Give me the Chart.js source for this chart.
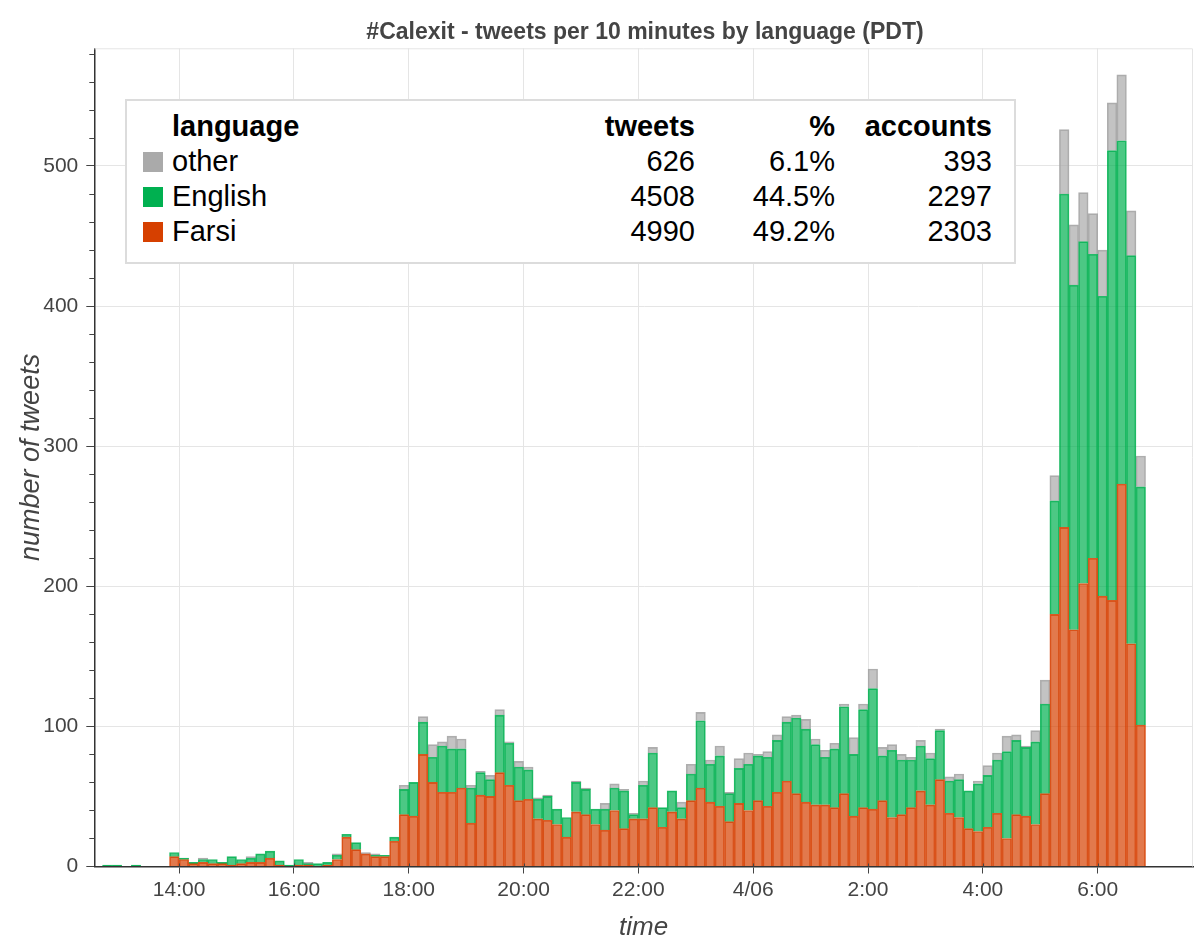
<!DOCTYPE html>
<html>
<head>
<meta charset="utf-8">
<script src="https://cdn.jsdelivr.net/npm/chart.js@4.4.0/dist/chart.umd.min.js"></script>
<style>
html, body { margin: 0; padding: 0; background: #fff; }
#wrap { position: relative; width: 1200px; height: 946px; }
#chart { position: absolute; left: 0; top: 0; }
#title { position: absolute; left: 645px; top: 17px; transform: translateX(-50%); white-space: nowrap;
  font-family: "Liberation Sans", Arial, sans-serif; font-weight: bold; font-size: 23px; line-height: 28px; color: #444; }
#legend { position: absolute; left: 125px; top: 99px; width: 887px; height: 161px; background: #fff;
  border: 2px solid #dcdcdc; font-family: "Liberation Sans", Arial, sans-serif; font-size: 29px; color: #000; }
.row { position: absolute; left: 0; width: 887px; height: 35px; line-height: 35px; }
.row span { position: absolute; top: 0; white-space: nowrap; }
.row .num { left: 0; text-align: right; }
.hdr { font-weight: bold; }
.sw { position: absolute; left: 16px; top: 8px; width: 20px; height: 20px; }
</style>
</head>
<body>
<div id="wrap">
  <canvas id="chart" width="1200" height="946"></canvas>
  <div id="title"></div>
  <div id="legend"></div>
</div>
<script>
// ---- data ----
const chartTitle = "#Calexit - tweets per 10 minutes by language (PDT)";
const categories = [
 "12:40","12:50","13:00","13:10","13:20","13:30","13:40","13:50",
 "14:00","14:10","14:20","14:30","14:40","14:50","15:00","15:10","15:20","15:30","15:40","15:50",
 "16:00","16:10","16:20","16:30","16:40","16:50","17:00","17:10","17:20","17:30","17:40","17:50",
 "18:00","18:10","18:20","18:30","18:40","18:50","19:00","19:10","19:20","19:30","19:40","19:50",
 "20:00","20:10","20:20","20:30","20:40","20:50","21:00","21:10","21:20","21:30","21:40","21:50",
 "22:00","22:10","22:20","22:30","22:40","22:50","23:00","23:10","23:20","23:30","23:40","23:50",
 "00:00","00:10","00:20","00:30","00:40","00:50","01:00","01:10","01:20","01:30","01:40","01:50",
 "02:00","02:10","02:20","02:30","02:40","02:50","03:00","03:10","03:20","03:30","03:40","03:50",
 "04:00","04:10","04:20","04:30","04:40","04:50","05:00","05:10","05:20","05:30","05:40","05:50",
 "06:00","06:10","06:20","06:30","06:40"
];
const farsi = [
 0,0,0,0,0,0,0,7,
 5,2,3,2,2,1,2,3,3,6,1,0,
 1,1,0,1,5,21,12,9,7,7,18,37,
 36,80,60,53,53,56,31,51,50,67,58,47,
 48,34,33,30,21,39,37,30,26,40,27,34,
 34,42,28,39,34,47,56,46,43,32,45,40,
 47,43,53,61,52,46,44,44,42,52,36,42,
 41,47,35,37,42,54,44,62,38,35,27,25,
 28,38,20,37,36,30,52,180,242,169,202,220,
 193,190,273,159,101
];
const english = [
 1,1,0,1,0,0,0,3,
 1,1,2,3,1,6,3,3,6,5,3,1,
 4,1,2,2,3,2,5,0,1,1,3,18,
 24,23,18,33,31,28,25,16,12,41,30,24,
 21,14,17,11,14,21,18,11,15,16,27,3,
 24,39,14,15,8,19,48,27,36,20,25,33,
 32,35,37,42,54,52,43,34,42,62,44,70,
 86,32,48,39,34,32,33,35,23,27,27,34,
 37,38,62,53,49,59,64,81,238,246,244,217,
 214,321,245,277,170
];
const other = [
 0,0,0,0,0,0,0,0,
 0,0,1,0,0,0,0,1,0,0,0,0,
 0,1,0,0,1,0,0,1,1,0,0,3,
 0,4,9,3,9,7,2,1,3,4,1,4,
 2,1,1,0,0,1,1,0,4,3,1,1,
 3,4,0,0,4,7,6,3,7,1,7,8,
 1,4,4,4,2,7,4,5,4,2,12,4,
 14,6,4,4,2,4,4,1,3,4,0,2,
 7,5,11,4,1,8,17,18,46,43,35,29,
 33,34,47,32,22
];
const xTickTimes  = ["14:00","16:00","18:00","20:00","22:00","24:00","26:00","28:00","30:00"];
const xTickLabels = ["14:00","16:00","18:00","20:00","22:00","4/06","2:00","4:00","6:00"];
const yTickValues = [0,100,200,300,400,500];

const legendNames    = ["other","English","Farsi"];
const legendTweets   = ["626","4508","4990"];
const legendPercent  = ["6.1%","44.5%","49.2%"];
const legendAccounts = ["393","2297","2303"];
const legendColors   = ["#aaaaaa","#00b050","#d64000"];

// ---- helpers ----
function toMinutes(t) {
  const [h, m] = t.split(":").map(Number);
  return (h < 12 ? h + 24 : h) * 60 + m;
}
const xCenters = categories.map(c => toMinutes(c) + 5);
const xTickValues = xTickTimes.map(toMinutes);
const pts = arr => arr.map((v, i) => ({ x: xCenters[i], y: v }));

const FONT = '"Liberation Sans", Arial, sans-serif';

document.getElementById('title').textContent = chartTitle;

const extras = {
  id: 'extras',
  afterDraw(chart) {
    const { ctx, chartArea: a, scales: { x, y } } = chart;
    ctx.save();
    ctx.strokeStyle = '#e5e5e5';
    ctx.lineWidth = 1;
    ctx.beginPath();
    ctx.moveTo(a.left, a.top + 0.5);
    ctx.lineTo(a.right - 0.5, a.top + 0.5);
    ctx.lineTo(a.right - 0.5, a.bottom);
    ctx.stroke();
    ctx.strokeStyle = '#444';
    ctx.lineWidth = 1;
    ctx.beginPath();
    for (let v = 20; v <= 580; v += 20) {
      if (v % 100 === 0) continue;
      const py = Math.round(y.getPixelForValue(v)) + 0.5;
      ctx.moveTo(a.left - 5, py);
      ctx.lineTo(a.left, py);
    }
    xTickValues.forEach(v => {
      const px = Math.round(x.getPixelForValue(v)) + 0.5;
      ctx.moveTo(px, a.bottom - 3);
      ctx.lineTo(px, a.bottom);
    });
    ctx.stroke();
    ctx.restore();
  }
};

new Chart(document.getElementById('chart'), {
  type: 'bar',
  data: {
    datasets: [
      { label: 'Farsi', data: pts(farsi), backgroundColor: 'rgba(214,64,0,0.7)', borderColor: 'rgba(214,64,0,0.85)', borderWidth: 1 },
      { label: 'English', data: pts(english), backgroundColor: 'rgba(0,176,80,0.7)', borderColor: 'rgba(0,176,80,0.85)', borderWidth: 1 },
      { label: 'other', data: pts(other), backgroundColor: 'rgba(170,170,170,0.7)', borderColor: 'rgba(160,160,160,0.85)', borderWidth: 1 }
    ]
  },
  options: {
    responsive: false,
    animation: false,
    barPercentage: 1,
    categoryPercentage: 1,
    layout: { padding: { left: 0, right: 7, top: 48.3, bottom: 0 } },
    plugins: {
      legend: { display: false },
      tooltip: { enabled: false },
      title: { display: false }
    },
    scales: {
      x: {
        type: 'linear',
        stacked: true,
        offset: false,
        min: 751.4,
        max: 1899.6,
        afterBuildTicks: s => { s.ticks = xTickValues.map(v => ({ value: v })); },
        afterFit: s => { s.height = 79.5; },
        ticks: {
          autoSkip: false, maxRotation: 0, minRotation: 0, padding: 4,
          color: '#444', font: { family: FONT, size: 21 },
          callback: v => xTickLabels[xTickValues.indexOf(v)]
        },
        grid: { offset: false, color: '#e5e5e5', tickColor: '#444', tickLength: 7, drawTicks: true },
        border: { color: '#333', width: 1.5 },
        title: { display: true, text: 'time', color: '#444', font: { family: FONT, size: 26, style: 'italic' }, padding: { top: 0, bottom: 3 } }
      },
      y: {
        stacked: true,
        min: 0,
        max: 584,
        afterBuildTicks: s => { s.ticks = yTickValues.map(v => ({ value: v })); },
        afterFit: s => { s.width = 94.3; },
        ticks: { color: '#444', font: { family: FONT, size: 21 }, padding: 8 },
        grid: { color: '#e5e5e5', tickColor: '#444', tickLength: 8, drawTicks: true },
        border: { color: '#333', width: 1.5 },
        title: { display: true, text: 'number of tweets', color: '#444', font: { family: FONT, size: 27, style: 'italic' }, padding: { top: 15, bottom: 0 } }
      }
    }
  },
  plugins: [extras]
});

// ---- legend table (real text) ----
const lg = document.getElementById('legend');
function addRow(i, cells, bold, color) {
  const r = document.createElement('div');
  r.className = 'row' + (bold ? ' hdr' : '');
  r.style.top = (8 + i * 35) + 'px';
  if (color) {
    const sw = document.createElement('div');
    sw.className = 'sw';
    sw.style.background = color;
    r.appendChild(sw);
  }
  const name = document.createElement('span');
  name.style.left = '45px';
  name.textContent = cells[0];
  r.appendChild(name);
  const rights = [568, 708, 865];
  for (let k = 1; k < 4; k++) {
    const s = document.createElement('span');
    s.className = 'num';
    s.style.width = rights[k - 1] + 'px';
    s.textContent = cells[k];
    r.appendChild(s);
  }
  lg.appendChild(r);
}
addRow(0, ['language', 'tweets', '%', 'accounts'], true, null);
legendNames.forEach((n, i) => addRow(i + 1, [n, legendTweets[i], legendPercent[i], legendAccounts[i]], false, legendColors[i]));
</script>
</body>
</html>
